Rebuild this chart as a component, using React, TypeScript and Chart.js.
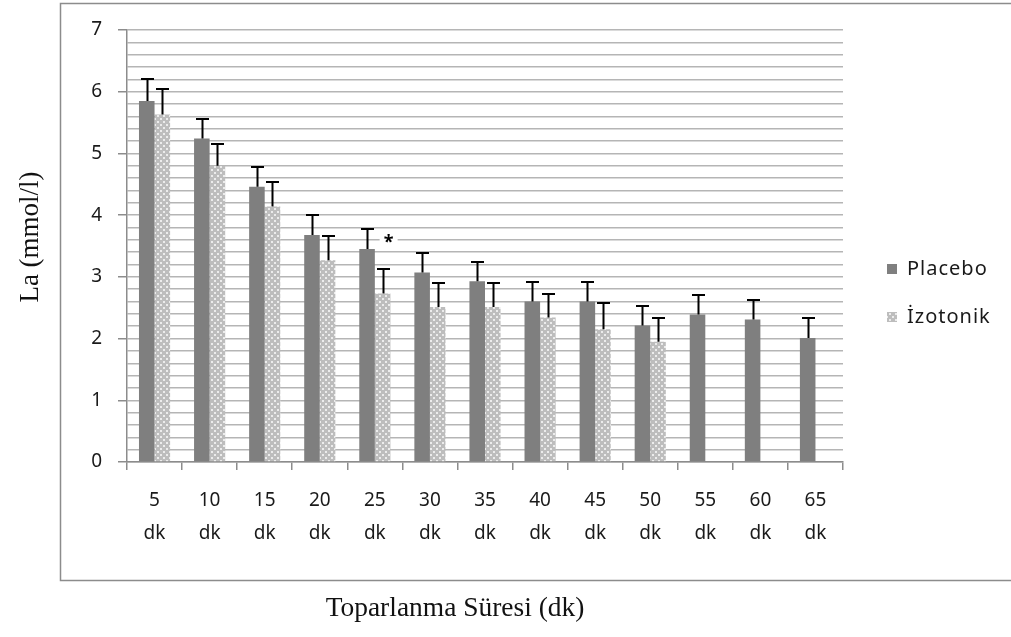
import React, { useEffect, useRef } from "react";
import { Chart, registerables } from "chart.js";

Chart.register(...registerables);

const categories: string[][] = [
  ["5", "dk"], ["10", "dk"], ["15", "dk"], ["20", "dk"], ["25", "dk"], ["30", "dk"], ["35", "dk"],
  ["40", "dk"], ["45", "dk"], ["50", "dk"], ["55", "dk"], ["60", "dk"], ["65", "dk"],
];
const placeboValues: (number | null)[] = [5.85, 5.24, 4.46, 3.68, 3.45, 3.07, 2.93, 2.6, 2.6, 2.21, 2.39, 2.31, 2.01];
const placeboErrors: (number | null)[] = [0.35, 0.32, 0.32, 0.32, 0.32, 0.31, 0.31, 0.32, 0.32, 0.32, 0.31, 0.31, 0.33];
const izotonikValues: (number | null)[] = [5.63, 4.8, 4.14, 3.27, 2.73, 2.51, 2.51, 2.34, 2.15, 1.95, null, null, null];
const izotonikErrors: (number | null)[] = [0.41, 0.36, 0.4, 0.4, 0.39, 0.39, 0.39, 0.39, 0.42, 0.39, null, null, null];
const significance: string[] = ["", "", "", "", "*", "", "", "", "", "", "", "", ""];
const yTickLabels: number[] = [0, 1, 2, 3, 4, 5, 6, 7];

const SANS = "'Noto Sans', 'Open Sans', sans-serif";
const SERIF = "'Liberation Serif', 'DejaVu Serif', serif";
const TEXT = "#1a1a1a";

function makePattern(): CanvasPattern | string {
  const c = document.createElement("canvas");
  c.width = 6;
  c.height = 6;
  const g = c.getContext("2d");
  if (!g) return "#c0c0c0";
  g.fillStyle = "#bdbdbd";
  g.fillRect(0, 0, 6, 6);
  g.fillStyle = "#ececec";
  g.fillRect(1, 1, 2, 2);
  g.fillRect(4, 4, 2, 2);
  const p = g.createPattern(c, "repeat");
  return p || "#c0c0c0";
}

export default function App() {
  const ref = useRef<HTMLCanvasElement | null>(null);

  useEffect(() => {
    document.body.style.margin = "0";
    const canvas = ref.current;
    if (!canvas) return;
    const pattern = makePattern();

    const extras = {
      id: "extras",
      beforeDraw(chart: any) {
        const ctx = chart.ctx;
        ctx.save();
        ctx.fillStyle = "#ffffff";
        ctx.fillRect(0, 0, chart.width, chart.height);
        ctx.strokeStyle = "#8c8c8c";
        ctx.lineWidth = 1.5;
        ctx.strokeRect(60.5, 3.5, chart.width + 10, 577);
        ctx.restore();
      },
      afterDatasetsDraw(chart: any) {
        const ctx = chart.ctx;
        const y = chart.scales.y;
        const sets = [
          { vals: placeboValues, errs: placeboErrors, idx: 0 },
          { vals: izotonikValues, errs: izotonikErrors, idx: 1 },
        ];
        ctx.save();
        ctx.strokeStyle = "#000000";
        ctx.lineWidth = 2;
        sets.forEach((s) => {
          const meta = chart.getDatasetMeta(s.idx);
          s.vals.forEach((v, i) => {
            const e = s.errs[i];
            if (v == null || e == null) return;
            const el = meta.data[i];
            const x = Math.round(el.x) + 0.5;
            const y0 = y.getPixelForValue(v);
            const y1 = Math.round(y.getPixelForValue(v + e));
            ctx.beginPath();
            ctx.moveTo(x, y0);
            ctx.lineTo(x, y1);
            ctx.moveTo(x - 6.5, y1);
            ctx.lineTo(x + 6.5, y1);
            ctx.stroke();
          });
        });
        // significance markers
        const meta1 = chart.getDatasetMeta(1);
        significance.forEach((s, i) => {
          if (!s) return;
          const el = meta1.data[i];
          const top = Math.max(placeboValues[i] ?? 0, 0);
          const px = el.x + 6;
          const py = y.getPixelForValue(top + 0.13);
          ctx.fillStyle = "#ffffff";
          ctx.fillRect(px - 9, py - 9, 18, 16);
          ctx.fillStyle = "#000000";
          ctx.font = `bold 18px ${SANS}`;
          ctx.textAlign = "center";
          ctx.textBaseline = "middle";
          ctx.fillText(s, px, py + 2);
        });
        ctx.restore();
      },
      afterDraw(chart: any) {
        const ctx = chart.ctx;
        const area = chart.chartArea;
        ctx.save();
        // axis titles
        ctx.fillStyle = "#111111";
        ctx.textAlign = "center";
        ctx.textBaseline = "middle";
        ctx.font = `28px ${SERIF}`;
        ctx.save();
        ctx.translate(area.left + 328, 609);
        ctx.scale(0.98, 1);
        ctx.fillText("Toparlanma Süresi (dk)", 0, 0);
        ctx.restore();
        ctx.save();
        ctx.font = `27px ${SERIF}`;
        ctx.translate(31, (area.top + area.bottom) / 2 - 9);
        ctx.rotate(-Math.PI / 2);
        ctx.fillText("La (mmol/l)", 0, 0);
        ctx.restore();
        // legend
        ctx.font = `20px ${SANS}`;
        (ctx as any).letterSpacing = "1px";
        ctx.textAlign = "left";
        chart.data.datasets.forEach((ds: any, i: number) => {
          const cy = 269 + i * 48;
          ctx.fillStyle = ds.backgroundColor;
          ctx.fillRect(887, cy - 5, 10, 10);
          ctx.fillStyle = TEXT;
          ctx.fillText(ds.label, 907, cy);
        });
        (ctx as any).letterSpacing = "0px";
        ctx.restore();
      },
    };

    const chart = new Chart(canvas, {
      type: "bar",
      data: {
        labels: categories,
        datasets: [
          {
            label: "Placebo",
            data: placeboValues,
            backgroundColor: "#7f7f7f",
            categoryPercentage: 0.565,
            barPercentage: 1,
          },
          {
            label: "İzotonik",
            data: izotonikValues,
            backgroundColor: pattern as any,
            categoryPercentage: 0.565,
            barPercentage: 1,
          },
        ],
      },
      options: {
        animation: false,
        responsive: false,
        maintainAspectRatio: false,
        layout: { padding: { left: 60, top: 30, right: 168, bottom: 0 } },
        plugins: {
          legend: { display: false },
          tooltip: { enabled: false },
        },
        scales: {
          x: {
            grid: {
              offset: true,
              drawOnChartArea: false,
              tickLength: 8,
              color: "#8c8c8c",
              lineWidth: 1.5,
            },
            border: { color: "#8c8c8c", width: 1.5 },
            ticks: {
              maxRotation: 0,
              autoSkip: false,
              padding: 14,
              color: TEXT,
              font: { family: SANS, size: 19, lineHeight: 1.74 },
            },
            afterFit(scale: any) {
              scale.height = 637 - 462;
            },
          },
          y: {
            min: 0,
            max: 7,
            ticks: {
              stepSize: 0.2,
              autoSkip: false,
              padding: 16,
              color: TEXT,
              font: { family: SANS, size: 19 },
              callback: (v: any) => {
                const n = Math.round(Number(v) * 10) / 10;
                return yTickLabels.includes(n) ? String(n) : "";
              },
            },
            grid: {
              tickLength: 9,
              lineWidth: 1.5,
              color: "#b5b5b5",
              tickColor: (c: any) => {
                const n = Math.round(Number(c.tick?.value) * 10) / 10;
                return Number.isInteger(n) ? "#8c8c8c" : "rgba(0,0,0,0)";
              },
            },
            border: { color: "#8c8c8c", width: 1.5 },
            afterFit(scale: any) {
              scale.width = 127 - 60;
            },
          },
        },
      },
      plugins: [extras],
    });
    return () => chart.destroy();
  }, []);

  return (
    <div style={{ position: "absolute", left: 0, top: 0, width: 1011, height: 637 }}>
      <canvas ref={ref} width={1011} height={637} style={{ width: 1011, height: 637, display: "block" }} />
    </div>
  );
}
